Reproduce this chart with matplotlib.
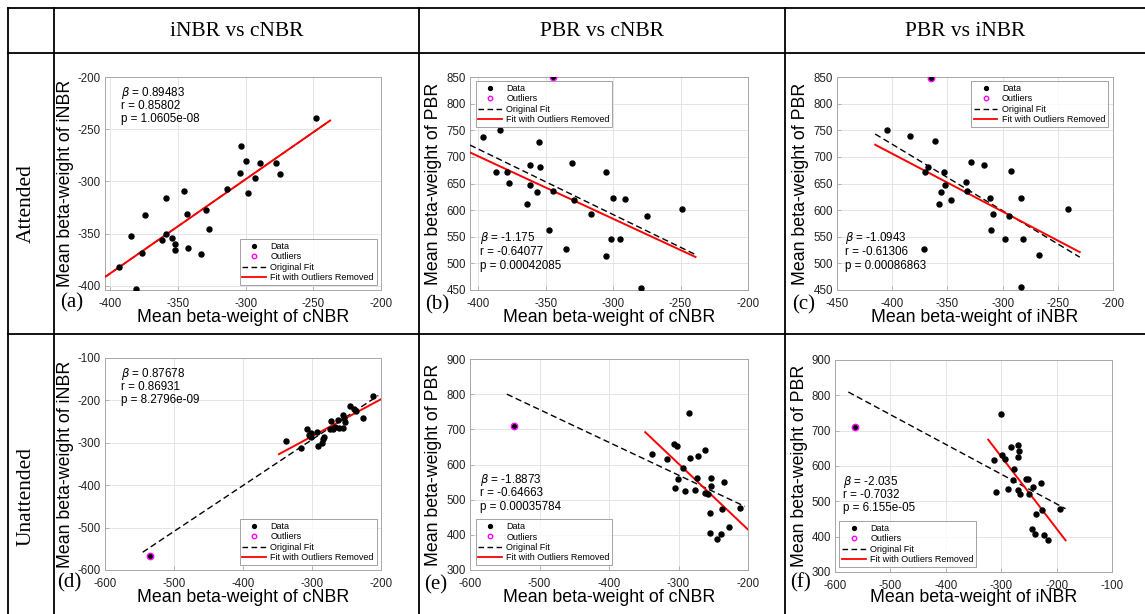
import matplotlib
matplotlib.use('Agg')
import matplotlib.pyplot as plt
from matplotlib.lines import Line2D
import numpy as np

plt.rcParams['font.family'] = ['Liberation Sans', 'DejaVu Sans']
plt.rcParams['axes.unicode_minus'] = False
plt.rcParams['mathtext.fontset'] = 'dejavusans'

W, H = 1145, 614

col_titles = ['iNBR vs cNBR', 'PBR vs cNBR', 'PBR vs iNBR']
row_titles = ['Attended', 'Unattended']
panel_letters = ['(a)', '(b)', '(c)', '(d)', '(e)', '(f)']
xlabels = ['Mean beta-weight of cNBR', 'Mean beta-weight of cNBR', 'Mean beta-weight of iNBR',
           'Mean beta-weight of cNBR', 'Mean beta-weight of cNBR', 'Mean beta-weight of iNBR']
ylabels = ['Mean beta-weight of iNBR', 'Mean beta-weight of PBR', 'Mean beta-weight of PBR',
           'Mean beta-weight of iNBR', 'Mean beta-weight of PBR', 'Mean beta-weight of PBR']
legend_labels = ['Data', 'Outliers', 'Original Fit', 'Fit with Outliers Removed']

# ---- (a) Attended: iNBR vs cNBR
a_x = [-248, -303.6, -299.6, -289.8, -277.7, -274.5, -304, -293.5, -314, -298.6, -345.9, -359.2,
       -374.7, -343.2, -329.2, -327.2, -384.5, -359.2, -361.9, -354.2, -352.5, -352, -343, -333,
       -376.4, -393.6, -381.3]
a_y = [-239, -265.7, -280.1, -282.7, -282, -293, -291.7, -296.8, -307.4, -310.9, -309.6, -316,
       -332, -330.8, -327.2, -345.5, -351.9, -350.3, -356.4, -354.2, -359.6, -366, -363.5, -369.9,
       -368.6, -382, -403.5]
a_out_x = []
a_out_y = []
a_orig_x = [-403.7, -237.6]
a_orig_y = [-391.3, -241.7]
a_fit_x = [-403.7, -237.6]
a_fit_y = [-391.3, -241.7]
a_stats = ['0.89483', '0.85802', '1.0605e-08']

# ---- (b) Attended: PBR vs cNBR
b_x = [-396, -383.7, -354.8, -386.7, -378.5, -377, -361.2, -353.8, -361.2, -356.3, -364, -344.7,
       -330.6, -328.9, -316, -305.4, -299.8, -290.9, -301.2, -294.8, -304.9, -347.7, -334.8,
       -274.8, -248.9, -279.5]
b_y = [737.9, 749.8, 728.4, 672.3, 671, 651.5, 685.5, 680.5, 647, 633.2, 611.9, 636.4, 689.4,
       618.7, 592.2, 672.3, 622.5, 621.3, 544.9, 544.9, 514, 561.9, 526.6, 588.5, 602.4, 454.4]
b_out_x = [-344.7]
b_out_y = [849.4]
b_orig_x = [-406, -238.9]
b_orig_y = [722.2, 516.5]
b_fit_x = [-406, -238.9]
b_fit_y = [708.3, 512.0]
b_stats = ['-1.175', '-0.64077', '0.00042085']

# ---- (c) Attended: PBR vs iNBR
c_x = [-405.1, -384, -360.8, -367.5, -370.2, -353, -351.8, -355.4, -357.5, -346.7, -333.1, -331.9,
       -328.6, -316.6, -311.7, -308.4, -310.5, -292.8, -294.3, -297.9, -283.4, -281.6, -266.6,
       -240.4, -371.4, -283.1]
c_y = [750.5, 739.1, 729.1, 681.2, 671.1, 672.4, 647.2, 633.9, 611.9, 618.8, 652.2, 636.5, 690,
       685.6, 623.2, 593, 562.8, 673, 589.2, 546.4, 622, 545.7, 514.9, 602.4, 527.5, 455.2]
c_out_x = [-365.1]
c_out_y = [848.5]
c_orig_x = [-415.4, -230.1]
c_orig_y = [742.9, 511.7]
c_fit_x = [-415.4, -230.1]
c_fit_y = [722.8, 521.2]
c_stats = ['-1.0943', '-0.61306', '0.00086863']

# ---- (d) Unattended: iNBR vs cNBR
d_x = [-337.7, -316.4, -307.2, -304.8, -300.9, -293.2, -301.4, -290.8, -286, -283.6, -282.1,
       -273.9, -270, -273, -261.8, -260.4, -255.6, -254.6, -253.6, -251.7, -244.9, -239.1, -236.2,
       -226.6, -212.1, -266.5]
d_y = [-295.9, -311.7, -267.5, -281.7, -276.9, -273.8, -286.4, -307, -300.6, -291.2, -285.6,
       -268.2, -268.2, -249.3, -246.9, -265.1, -264.3, -234.3, -240.6, -251.7, -212.2, -220.1,
       -224, -240.6, -190.8, -262]
d_out_x = [-535.3]
d_out_y = [-566]
d_orig_x = [-545.4, -203.9]
d_orig_y = [-558.1, -188.5]
d_fit_x = [-347.8, -200]
d_fit_y = [-326.7, -197.2]
d_stats = ['0.87678', '0.86931', '8.2796e-09']

# ---- (e) Unattended: PBR vs cNBR
e_x = [-338.3, -317.1, -307, -301.7, -294, -301.2, -304.6, -291.1, -284.8, -282.9, -271.3, -273.3,
       -276.6, -261.2, -262.2, -256.9, -253, -253, -235.2, -254.5, -237.6, -254.5, -239, -245.3,
       -227, -211.6]
e_y = [630.6, 615.5, 658, 652.4, 589, 558.8, 532.3, 523.8, 745.9, 618.3, 625, 561.6, 527.6, 641,
       518.1, 517.2, 560.7, 538, 550.3, 461.4, 474.7, 405.7, 402.8, 386.8, 421.7, 475.6]
e_out_x = [-536.4]
e_out_y = [708.1]
e_orig_x = [-547, -204.8]
e_orig_y = [800, 481]
e_fit_x = [-347.9, -200]
e_fit_y = [692, 415]
e_stats = ['-1.8873', '-0.64663', '0.00035784']

# ---- (f) Unattended: PBR vs iNBR
f_x = [-300.6, -313.8, -298.8, -292.8, -309.6, -288.6, -282, -269.5, -267.7, -270.1, -276.6,
       -278.4, -269.5, -265.3, -255.1, -250.9, -250.3, -242.5, -227.5, -225.7, -237.1, -244.3,
       -239.5, -222.8, -215.6, -194]
f_y = [747.2, 617, 632.1, 620.8, 525.5, 534.9, 653.8, 660.4, 643.4, 626.4, 590.6, 560.4, 531.1,
       520.8, 563.2, 563.2, 520.8, 539.6, 551.9, 476.4, 465.1, 422.6, 408.5, 405.7, 389.6, 479.2]
f_out_x = [-564.7]
f_out_y = [709.4]
f_orig_x = [-576, -183.8]
f_orig_y = [809.4, 479]
f_fit_x = [-323.4, -183.8]
f_fit_y = [674.5, 389.6]
f_stats = ['-2.035', '-0.7032', '6.155e-05']

panels = [
    (a_x, a_y, a_out_x, a_out_y, a_orig_x, a_orig_y, a_fit_x, a_fit_y, a_stats),
    (b_x, b_y, b_out_x, b_out_y, b_orig_x, b_orig_y, b_fit_x, b_fit_y, b_stats),
    (c_x, c_y, c_out_x, c_out_y, c_orig_x, c_orig_y, c_fit_x, c_fit_y, c_stats),
    (d_x, d_y, d_out_x, d_out_y, d_orig_x, d_orig_y, d_fit_x, d_fit_y, d_stats),
    (e_x, e_y, e_out_x, e_out_y, e_orig_x, e_orig_y, e_fit_x, e_fit_y, e_stats),
    (f_x, f_y, f_out_x, f_out_y, f_orig_x, f_orig_y, f_fit_x, f_fit_y, f_stats),
]

# layout (pixels): left, top, right, bottom
rects = [(105, 77, 381, 290), (470, 77, 748, 290), (837, 77, 1113, 290),
         (105, 358, 381, 570), (470, 359, 748, 570), (835, 360, 1112, 572)]
xlims = [(-404, -200), (-406, -200), (-450, -200), (-600, -200), (-600, -200), (-600, -100)]
ylims = [(-404, -200), (450, 850), (450, 850), (-600, -100), (300, 900), (300, 900)]
xticks = [np.arange(-400, -199, 50), np.arange(-400, -199, 50), np.arange(-450, -199, 50),
          np.arange(-600, -199, 100), np.arange(-600, -199, 100), np.arange(-600, -99, 100)]
yticks = [np.arange(-400, -199, 50), np.arange(450, 851, 50), np.arange(450, 851, 50),
          np.arange(-600, -99, 100), np.arange(300, 901, 100), np.arange(300, 901, 100)]
stat_x = [0.058, 0.036, 0.03, 0.058, 0.036, 0.03]
stat_y = [(0.926, 0.863, 0.804), (0.242, 0.18, 0.113), (0.243, 0.18, 0.113),
          (0.924, 0.863, 0.80), (0.427, 0.363, 0.30), (0.425, 0.365, 0.302)]
leg_loc = ['lower right', 'upper left', 'upper right', 'lower right', 'lower left', 'lower left']
leg_anchor = [(0.984, 0.024), (0.02, 0.98), (0.982, 0.98), (0.984, 0.024), (0.02, 0.024),
              (0.016, 0.024)]
ylab_off = [40, 36, 36, 40, 36, 35]
xlab_off = [28, 28, 28, 28, 28, 26]
letter_pos = [(60, 303), (425, 305), (792, 305), (57, 583), (424, 585), (790, 583)]

fig = plt.figure(figsize=(W / 100, H / 100), dpi=100)
fig.patch.set_facecolor('white')

def fx(px):
    return px / W

def fy(py):
    return 1 - py / H

# table lines
lw_tab = 1.3
for y in (8, 53, 334):
    fig.add_artist(Line2D([fx(8), fx(1145)], [fy(y), fy(y)], color='black', lw=lw_tab))
for x in (8, 54, 419, 785):
    fig.add_artist(Line2D([fx(x), fx(x)], [fy(8), fy(614)], color='black', lw=lw_tab))

serif = ['Liberation Serif', 'DejaVu Serif']
for cx, t in zip((236.5, 602, 965), col_titles):
    fig.text(fx(cx), fy(31), t, ha='center', va='center', fontsize=15.5, family=serif)
for cy, t in zip((204, 497), row_titles):
    fig.text(fx(26), fy(cy), t, ha='center', va='center', fontsize=15.5, family=serif,
             rotation=90)

grey = '#a8a8a8'
for i, (xs, ys, oxs, oys, gx, gy, rx, ry, st) in enumerate(panels):
    l, t, r, b = rects[i]
    ax = fig.add_axes([fx(l), fy(b), (r - l) / W, (b - t) / H])
    ax.set_xlim(*xlims[i])
    ax.set_ylim(*ylims[i])
    ax.set_xticks(xticks[i])
    ax.set_yticks(yticks[i])
    ax.grid(True, color='#e4e4e4', lw=0.7)
    ax.set_axisbelow(True)
    for s in ax.spines.values():
        s.set_color(grey)
        s.set_linewidth(0.7)
    ax.tick_params(direction='in', length=3, width=0.6, color=grey, labelsize=8.3,
                   labelcolor='#222222', top=False, right=False)
    ax.tick_params(axis='x', pad=5.5)
    ax.tick_params(axis='y', pad=3)

    ax.plot(gx, gy, color='black', ls='--', lw=1.0, dashes=(4.5, 2.5), zorder=3)
    ax.plot(rx, ry, color='red', lw=1.4, zorder=4)
    ax.plot(xs, ys, ls='none', marker='o', ms=3.6, mfc='black', mec='black', zorder=5)
    if len(oxs):
        ax.plot(oxs, oys, ls='none', marker='o', ms=3.0, mfc='black', mec='black', zorder=5)
        ax.plot(oxs, oys, ls='none', marker='o', ms=4.6, mfc='none', mec='magenta', mew=1.0,
                zorder=6)

    ax.set_xlabel(xlabels[i], fontsize=12.8, va='center')
    ax.xaxis.set_label_coords(0.5, -xlab_off[i] / (b - t))
    ax.set_ylabel(ylabels[i], fontsize=12.8, va='center')
    ax.yaxis.set_label_coords(-ylab_off[i] / (r - l), 0.5)

    lines = ['$\\beta$ = ' + st[0], 'r = ' + st[1], 'p = ' + st[2]]
    for k, txt in enumerate(lines):
        ax.text(stat_x[i], stat_y[i][k], txt, transform=ax.transAxes, ha='left', va='center',
                fontsize=8.4, color='black', zorder=7)

    handles = [Line2D([], [], ls='none', marker='o', ms=2.8, color='black'),
               Line2D([], [], ls='none', marker='o', ms=3.2, mfc='none', mec='magenta', mew=1.0),
               Line2D([], [], color='black', ls='--', lw=1.0, dashes=(4, 2.5)),
               Line2D([], [], color='red', lw=1.3)]
    leg = ax.legend(handles, legend_labels, loc=leg_loc[i], bbox_to_anchor=leg_anchor[i],
                    fontsize=6.5, frameon=True, fancybox=False, borderpad=0.3,
                    labelspacing=0.15, handlelength=2.6, handletextpad=0.5, borderaxespad=0)
    leg.get_frame().set_edgecolor('#8c8c8c')
    leg.get_frame().set_linewidth(0.7)
    leg.set_zorder(8)

    lx, ly = letter_pos[i]
    fig.text(fx(lx), fy(ly), panel_letters[i], ha='left', va='center', fontsize=15,
             family=serif)

fig.savefig('out.png', dpi=100, facecolor='white')
